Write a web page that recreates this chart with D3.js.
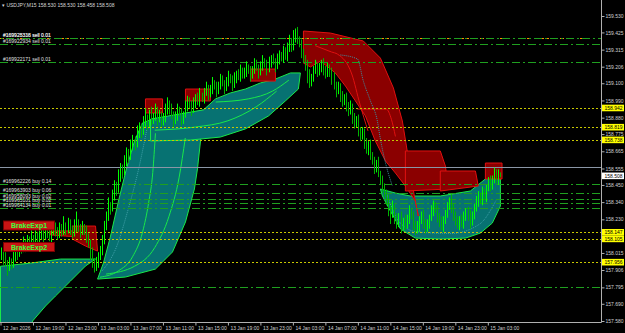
<!DOCTYPE html>
<html><head><meta charset="utf-8">
<script src="https://cdn.jsdelivr.net/npm/d3@7"></script>
<style>body{margin:0;background:#000;overflow:hidden}</style>
</head><body><div id="chart"></div>
<script>
const W = 625, H = 333;
const nBars = 247;

// closes per M15 bar (open = previous close)
const closes = [
158.02,157.98,157.95,157.92,157.96,157.94,157.99,158.03,158.01,158.05,
158.04,158.08,158.06,158.10,158.07,158.11,158.09,158.13,158.10,158.12,
158.15,158.12,158.16,158.14,158.11,158.15,158.18,158.16,158.13,158.17,
158.15,158.19,158.16,158.20,158.17,158.14,158.18,158.21,158.17,158.15,
158.18,158.16,158.12,158.08,158.02,157.96,157.92,157.95,157.99,158.04,
158.10,158.18,158.25,158.32,158.30,158.38,158.45,158.42,158.50,158.56,
158.53,158.60,158.66,158.63,158.70,158.74,158.71,158.78,158.82,158.79,
158.85,158.88,158.84,158.90,158.86,158.89,158.93,158.87,158.90,158.85,
158.88,158.92,158.97,158.94,158.90,158.86,158.89,158.93,158.91,158.87,
158.90,158.95,158.99,158.96,158.93,158.97,159.01,158.98,159.02,159.00,
159.04,159.07,159.03,159.06,159.10,159.08,159.05,159.09,159.12,159.10,
159.07,159.11,159.14,159.12,159.09,159.13,159.16,159.14,159.18,159.15,
159.17,159.20,159.18,159.15,159.19,159.22,159.20,159.17,159.21,159.24,
159.22,159.19,159.23,159.26,159.24,159.21,159.25,159.28,159.26,159.30,
159.27,159.32,159.36,159.33,159.40,159.43,159.38,159.35,159.30,159.26,
159.22,159.15,159.10,159.14,159.18,159.21,159.17,159.20,159.23,159.19,
159.16,159.20,159.17,159.13,159.09,159.05,159.08,159.02,158.98,159.01,
158.96,158.92,158.95,158.88,158.84,158.87,158.80,158.76,158.79,158.72,
158.68,158.71,158.64,158.60,158.56,158.59,158.52,158.48,158.44,158.40,
158.36,158.30,158.26,158.31,158.24,158.20,158.25,158.18,158.22,158.19,
158.23,158.28,158.25,158.20,158.16,158.18,158.22,158.26,158.21,158.17,
158.20,158.24,158.28,158.32,158.29,158.25,158.21,158.18,158.22,158.27,
158.31,158.35,158.30,158.26,158.22,158.19,158.23,158.20,158.24,158.28,
158.25,158.21,158.26,158.30,158.34,158.38,158.35,158.40,158.37,158.43,
158.47,158.44,158.49,158.53,158.48,158.52,158.508
];
// extra wick beyond the body, in yen, per bar (up, down)
const wickUp = [
.03,.02,.04,.02,.03,.02,.04,.03,.02,.03, .02,.04,.02,.03,.02,.05,.02,.03,.02,.04,
.03,.02,.05,.02,.03,.04,.02,.03,.02,.04, .03,.06,.02,.04,.03,.02,.05,.07,.02,.03,
.04,.02,.03,.02,.02,.03,.02,.04,.03,.02, .03,.04,.03,.05,.02,.04,.03,.02,.05,.03,
.02,.04,.03,.02,.04,.03,.02,.05,.03,.02, .04,.06,.02,.03,.05,.02,.04,.02,.03,.02,
.03,.05,.04,.02,.03,.02,.03,.04,.02,.03, .02,.04,.03,.02,.03,.04,.02,.03,.05,.02,
.03,.04,.02,.03,.04,.02,.03,.02,.04,.03, .02,.03,.04,.02,.03,.04,.02,.03,.04,.02,
.03,.04,.02,.03,.02,.04,.03,.02,.03,.04, .02,.03,.04,.02,.03,.02,.04,.03,.02,.04,
.03,.04,.05,.03,.04,.02,.03,.02,.03,.02, .02,.03,.04,.02,.03,.04,.02,.03,.02,.03,
.02,.03,.02,.03,.04,.02,.03,.02,.03,.02, .03,.02,.04,.02,.03,.02,.03,.02,.03,.02,
.03,.02,.03,.02,.03,.02,.04,.02,.03,.02, .02,.03,.02,.04,.02,.03,.02,.03,.02,.04,
.03,.04,.02,.03,.02,.04,.03,.02,.03,.02, .03,.02,.04,.03,.02,.03,.02,.04,.03,.02,
.03,.02,.04,.03,.02,.03,.02,.03,.04,.02, .03,.04,.02,.03,.04,.03,.02,.04,.03,.02,
.03,.04,.02,.03,.02,.03,.01
];
const wickDn = [
.03,.04,.02,.05,.02,.03,.02,.03,.04,.02, .03,.02,.04,.02,.03,.02,.03,.02,.04,.02,
.02,.04,.02,.03,.02,.03,.02,.04,.03,.02, .03,.02,.03,.02,.04,.03,.02,.03,.02,.04,
.02,.03,.04,.03,.05,.04,.03,.02,.03,.02, .04,.03,.02,.03,.04,.02,.03,.04,.02,.03,
.04,.02,.03,.04,.02,.03,.04,.02,.03,.04, .02,.03,.04,.02,.03,.02,.03,.04,.02,.03,
.02,.03,.02,.04,.03,.04,.02,.03,.02,.04, .03,.02,.03,.02,.04,.02,.03,.02,.03,.02,
.03,.02,.04,.02,.03,.02,.04,.02,.03,.02, .04,.02,.03,.02,.04,.02,.03,.02,.03,.02,
.02,.03,.02,.04,.02,.03,.02,.04,.02,.03, .02,.04,.02,.03,.02,.04,.02,.03,.02,.03,
.02,.03,.02,.03,.02,.04,.03,.02,.04,.03, .04,.05,.03,.02,.03,.02,.03,.02,.03,.04,
.03,.02,.03,.04,.03,.04,.02,.04,.03,.02, .04,.03,.02,.04,.03,.02,.04,.03,.02,.04,
.03,.04,.03,.02,.04,.03,.02,.03,.04,.03, .04,.05,.06,.02,.04,.03,.02,.04,.02,.03,
.02,.03,.02,.04,.03,.02,.03,.02,.04,.03, .02,.03,.02,.03,.02,.04,.03,.02,.03,.02,
.03,.02,.03,.04,.03,.02,.03,.02,.03,.02, .03,.04,.02,.03,.02,.03,.02,.03,.02,.03,
.02,.03,.02,.03,.02,.03,.01
];

const priceTicks = [159.530,159.425,159.315,159.206,159.100,158.990,158.880,158.775,158.665,158.555,158.450,158.340,158.230,158.015,157.906,157.795,157.690,157.580];
const timeLabels = ['12 Jan 2026','12 Jan 19:00','12 Jan 23:00','13 Jan 03:00','13 Jan 07:00','13 Jan 11:00','13 Jan 15:00','13 Jan 19:00','13 Jan 23:00','14 Jan 03:00','14 Jan 07:00','14 Jan 11:00','14 Jan 15:00','14 Jan 19:00','14 Jan 23:00','15 Jan 03:00'];
const timeLabelBars = [0,16,32,48,64,80,96,112,128,144,160,176,192,208,224,240];

const levelPrices = [158.942,158.819,158.738,158.147,158.105,157.956];
const bidPrice = 158.508;
const askLine = 158.565;

const orderIds = ['#169928336','#169925318','#169922934','#169922171','#169962226','#169963903','#169958093','#169965101','#169964134'];
const orderSides = ['sell','sell','sell','sell','buy','buy','buy','buy','buy'];
const orderLots = ['0.01','0.01','0.01','0.01','0.14','0.06','0.02','0.02','0.01'];
const orderPrices = [159.391,159.391,159.349,159.238,158.454,158.396,158.362,158.332,158.302];
const orderColors = ['#ff8c00','#1f9f1f','#1f9f1f','#1f9f1f','#1f9f1f','#1f9f1f','#1f9f1f','#1f9f1f','#1f9f1f'];
const stopPrice = 157.797;

// indicator zones: polygons of [bar, price]
const tealZones = [
  // lower left, tail of an earlier swing
  [[0,157.93],[14.8,157.95],[29.5,157.976],[46.8,157.976],[41.9,157.932],[34.5,157.836],[27.1,157.74],[22.2,157.676],[15.8,157.58],[14,157.50],[0,157.50]],
  // big sail from the 13 Jan low
  [[47.8,157.848],[50.7,157.951],[54.2,158.123],[58.1,158.347],[62,158.552],[66,158.731],[69.9,158.846],[74.8,158.871],[81.2,158.871],
   [88.6,158.891],[96,158.91],[100,158.93],[98.5,158.731],[97,158.552],[95.5,158.424],[91.1,158.213],[84.7,158.021],[76.3,157.912],[61.5,157.861]],
  // band under the 13 Jan advance
  [[73.9,158.871],[100,158.93],[105.9,159.0],[113.2,159.038],[120.6,159.063],[128,159.102],[135.4,159.127],[142.8,159.166],[147.7,159.166],
   [146.7,159.063],[140.3,158.987],[132,158.891],[120.6,158.808],[108.3,158.756],[93.5,158.737],[73.9,158.731]],
  // bowl on 14-15 Jan
  [[187.1,158.424],[194.5,158.398],[201.9,158.379],[216.6,158.379],[231.4,158.411],[238.8,158.488],[246.2,158.571],
   [246.2,158.315],[242.2,158.206],[236.3,158.142],[229,158.11],[216.6,158.104],[204.3,158.11],[197,158.168],[192,158.283],[188.1,158.379]]
];
const tealCurves = [
  [[49,157.86],[58,157.90],[65,157.99],[70,158.15],[73,158.34],[75,158.53],[76.3,158.78]],
  [[52,157.88],[66,157.93],[76,158.05],[83,158.25],[88,158.50],[91,158.75]],
  [[76,158.80],[96,158.82],[112,158.86],[126,158.95],[136,159.05]],
  [[106,158.98],[122,159.00],[134,159.05],[142,159.12]]
];
const tealDots = [
  [[50,157.90],[57,158.05],[63,158.30],[68,158.55],[72,158.80]],
  [[190,158.40],[196,158.22],[205,158.15],[222,158.14],[236,158.20],[244,158.35]]
];
const redZones = [
  [[24.6,158.156],[35.4,158.156],[35.4,158.187],[46.8,158.187],[47.8,158.027],[41.9,158.059],[35.4,158.104],[35.4,158.12],[24.6,158.13]],
  [[71.4,159.0],[79.8,159.0],[79.8,158.91],[71.4,158.91]],
  [[91.1,159.063],[103.4,159.063],[103.4,158.987],[91.1,158.987]],
  [[123.1,159.191],[135.4,159.191],[135.4,159.114],[123.1,159.114]],
  [[149.2,159.434],[162.5,159.421],[178.7,159.37],[187.1,159.261],[193.5,159.07],[197.9,158.859],[199.9,158.699],[201.9,158.539],[203.8,158.379],[205.8,158.251],
   [204.3,158.347],[199.4,158.443],[194.5,158.526],[189.6,158.603],[184.6,158.731],[179.7,158.891],[174.8,158.987],[169.9,159.082],[164.9,159.166],[157.6,159.242],[152.6,159.204],[149.2,159.229]],
  [[199.4,158.667],[216.6,158.667],[219.1,158.571],[220.6,158.424],[199.4,158.411]],
  [[216.6,158.539],[233.9,158.539],[235.3,158.443],[216.6,158.411]],
  [[238.8,158.59],[247,158.59],[247,158.488],[238.8,158.488]]
];
const redCurves = [
  [[155,159.34],[163,159.30],[166,159.286],[173,159.159],[177,158.967],[181,158.795]],
  [[175.8,158.935],[190,158.935],[192.5,158.87],[194.5,158.76]]
];
const redDots = [
  [[167.4,159.281],[175.8,159.255],[178.7,159.114],[182.2,158.987],[185.6,158.859],[187.1,158.743],[190,158.571],[193,158.443]]
];

const x = d3.scaleLinear().domain([0, nBars - 1]).range([0.5, 500]);
const y = d3.scaleLinear().domain([157.580, 159.530]).range([321, 16]);
const plotR = 601, plotB = 322;
const font = '"Liberation Sans", Arial, sans-serif';

const svg = d3.select('#chart').append('svg')
  .attr('width', W).attr('height', H)
  .style('font-family', font);

svg.append('rect').attr('width', W).attr('height', H).attr('fill', '#000');
svg.append('defs').append('clipPath').attr('id', 'plot')
  .append('rect').attr('x', 0).attr('y', 0).attr('width', plotR).attr('height', plotB);

const g = svg.append('g').attr('clip-path', 'url(#plot)');
const poly = d3.line().x(d => x(d[0])).y(d => y(d[1])).curve(d3.curveLinearClosed);
const curve = d3.line().x(d => x(d[0])).y(d => y(d[1])).curve(d3.curveMonotoneX);

g.selectAll('.teal').data(tealZones).join('path')
  .attr('d', poly).attr('fill', '#077272').attr('stroke', '#19e84a').attr('stroke-width', 1);
g.selectAll('.tc').data(tealCurves).join('path')
  .attr('d', curve).attr('fill', 'none').attr('stroke', '#19e84a').attr('stroke-width', 1);
g.selectAll('.td').data(tealDots).join('path')
  .attr('d', curve).attr('fill', 'none').attr('stroke', '#3fa0a8').attr('stroke-dasharray', '1,1');
g.selectAll('.red').data(redZones).join('path')
  .attr('d', poly).attr('fill', '#8b0000').attr('stroke', '#e01010').attr('stroke-width', 1);
g.selectAll('.rc').data(redCurves).join('path')
  .attr('d', curve).attr('fill', 'none').attr('stroke', '#e01010').attr('stroke-width', 1);
g.selectAll('.rd').data(redDots).join('path')
  .attr('d', curve).attr('fill', 'none').attr('stroke', '#3f8fa0').attr('stroke-dasharray', '1,1');

// horizontal levels
const hy = p => Math.round(y(p)) + .5;
g.selectAll('.lvl').data(levelPrices).join('line')
  .attr('x1', 0).attr('x2', plotR).attr('y1', hy).attr('y2', hy)
  .attr('stroke', '#c8c800').attr('stroke-dasharray', '2,2');
g.append('line').attr('x1', 0).attr('x2', plotR).attr('y1', hy(askLine)).attr('y2', hy(askLine))
  .attr('stroke', '#8a96a6');
g.append('line').attr('x1', 0).attr('x2', plotR).attr('y1', hy(stopPrice)).attr('y2', hy(stopPrice))
  .attr('stroke', '#1f9f1f').attr('stroke-dasharray', '8,3,2,3');
g.selectAll('.ord').data(orderPrices).join('line')
  .attr('x1', 0).attr('x2', plotR).attr('y1', hy).attr('y2', hy)
  .attr('stroke', (d, i) => orderColors[i])
  .attr('stroke-dasharray', (d, i) => i === 0 ? '4,3,2,11' : '8,3,2,3')
  .attr('stroke-dashoffset', (d, i) => i === 1 ? 10 : 0);

// candles
const bars = d3.range(nBars).map(i => {
  const c = closes[i], o = i ? closes[i - 1] : closes[0] - .02;
  return { i, o, c, h: Math.max(o, c) + wickUp[i], l: Math.min(o, c) - wickDn[i] };
});
g.selectAll('.bar').data(bars).join('line')
  .attr('x1', d => Math.round(x(d.i)) + .5).attr('x2', d => Math.round(x(d.i)) + .5)
  .attr('y1', d => y(d.h)).attr('y2', d => y(d.l))
  .attr('stroke', d => d.c >= d.o ? '#00ff00' : '#00b400').attr('stroke-width', 1);

// order labels
g.selectAll('.olab').data(orderPrices).join('text')
  .attr('x', 3).attr('y', d => y(d) - 1)
  .attr('fill', '#e0e0e0').attr('font-size', 5)
  .text((d, i) => `${orderIds[i]} ${orderSides[i]} ${orderLots[i]}`);

// buttons
['BrakeExp1', 'BrakeExp2'].forEach((t, k) => {
  const by = k ? 242 : 220.5;
  svg.append('rect').attr('x', 3.5).attr('y', by + .5).attr('width', 51).attr('height', 9)
    .attr('fill', '#c81414').attr('stroke', '#7a0000');
  svg.append('text').attr('x', 29).attr('y', by + 7.8).attr('text-anchor', 'middle')
    .attr('fill', '#3cff3c').attr('font-size', 7).attr('font-weight', 'bold').text(t);
});

// header
svg.append('text').attr('x', 2).attr('y', 7).attr('fill', '#d8d8d8').attr('font-size', 5)
  .text('\u25BE USDJPY,M15  158.530 158.530 158.458 158.508');

// frame and axes
svg.append('line').attr('x1', plotR + .5).attr('x2', plotR + .5).attr('y1', 0).attr('y2', plotB + .5).attr('stroke', '#b0b0b0');
svg.append('line').attr('x1', 0).attr('x2', plotR + .5).attr('y1', plotB + .5).attr('y2', plotB + .5).attr('stroke', '#b0b0b0');

const yAxis = d3.axisRight(y).tickValues(priceTicks).tickSize(3).tickFormat(d3.format('.3f'));
const ya = svg.append('g').attr('transform', `translate(${plotR + .5},0)`).call(yAxis);
ya.select('.domain').remove();
ya.selectAll('line').attr('stroke', '#b0b0b0');
ya.selectAll('text').attr('fill', '#d0d0d0').attr('font-size', 5).attr('x', 4)
  .style('font-family', font);

const xAxis = d3.axisBottom(x).tickValues(timeLabelBars).tickSize(3).tickFormat((d, i) => timeLabels[i]);
const xa = svg.append('g').attr('transform', `translate(0,${plotB + .5})`).call(xAxis);
xa.select('.domain').remove();
xa.selectAll('line').attr('stroke', '#b0b0b0');
xa.selectAll('text').attr('fill', '#d0d0d0').attr('font-size', 5)
  .attr('text-anchor', 'start').attr('x', 2).attr('y', 4).style('font-family', font);

// price boxes
const boxes = levelPrices.map(p => ({ p, fill: '#ffff00' })).concat([{ p: bidPrice, fill: '#ffffff' }]);
const bx = svg.selectAll('.pbox').data(boxes).join('g')
  .attr('transform', d => `translate(${plotR + 1},${y(d.p) - 3.3})`);
bx.append('rect').attr('width', 22).attr('height', 6.6).attr('fill', d => d.fill);
bx.append('text').attr('x', 2.5).attr('y', 5.2).attr('font-size', 5).attr('fill', '#000')
  .text(d => d3.format('.3f')(d.p));
</script></body></html>
